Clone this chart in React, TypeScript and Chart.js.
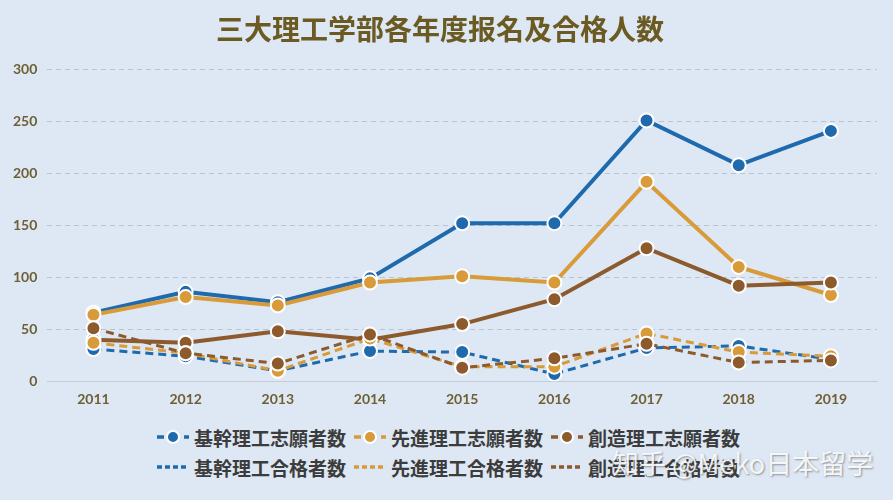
import React, { useEffect, useRef } from "react";
import { Chart, registerables } from "chart.js";

Chart.register(...registerables);

const years = ["2011", "2012", "2013", "2014", "2015", "2016", "2017", "2018", "2019"];
const kikanApply = [66, 86, 76, 99, 152, 152, 251, 208, 241];
const senshinApply = [64, 81, 73, 95, 101, 95, 192, 110, 83];
const souzouApply = [40, 37, 48, 40, 55, 79, 128, 92, 95];
const kikanPass = [31, 24, 10, 29, 28, 7, 32, 34, 21];
const senshinPass = [37, 27, 10, 41, 14, 14, 46, 28, 24];
const souzouPass = [51, 27, 17, 45, 13, 22, 36, 18, 20];
const yTicks = [0, 50, 100, 150, 200, 250, 300];

const seriesNames = [
  "基幹理工志願者数",
  "先進理工志願者数",
  "創造理工志願者数",
  "基幹理工合格者数",
  "先進理工合格者数",
  "創造理工合格者数",
];

const BLUE = "#1f69ad";
const GOLD = "#d99a3a";
const BROWN = "#8c5a2c";
const CJK = '"Noto Sans CJK JP", "Noto Sans", sans-serif';

function LegendMark({ color, dashed }: { color: string; dashed: boolean }) {
  return (
    <svg width={34} height={16} style={{ marginRight: 4, flex: "none" }}>
      {dashed ? (
        <line x1={1} y1={8} x2={33} y2={8} stroke={color} strokeWidth={3.5} strokeDasharray="5 3" />
      ) : (
        <>
          <line x1={1} y1={8} x2={33} y2={8} stroke={color} strokeWidth={3.5} strokeDasharray="7 20 7" />
          <circle cx={17} cy={8} r={6} fill={color} stroke="#fff" strokeWidth={2} />
        </>
      )}
    </svg>
  );
}

export default function App() {
  const canvasRef = useRef<HTMLCanvasElement | null>(null);

  useEffect(() => {
    if (!canvasRef.current) return;
    const solid = (label: string, data: number[], color: string, order: number) => ({
      label,
      data,
      order,
      borderColor: color,
      backgroundColor: color,
      borderWidth: 4,
      pointRadius: 7,
      pointHoverRadius: 7,
      pointBorderWidth: 2,
      pointBorderColor: "#ffffff",
      pointBackgroundColor: color,
      tension: 0,
    });
    const dashed = (label: string, data: number[], color: string, order: number) => ({
      ...solid(label, data, color, order),
      borderWidth: 3,
      borderDash: [8, 5],
    });
    const chart = new Chart(canvasRef.current, {
      type: "line",
      data: {
        labels: years,
        datasets: [
          solid(seriesNames[0], kikanApply, BLUE, 5),
          solid(seriesNames[1], senshinApply, GOLD, 4),
          solid(seriesNames[2], souzouApply, BROWN, 3),
          dashed(seriesNames[3], kikanPass, BLUE, 2),
          dashed(seriesNames[4], senshinPass, GOLD, 1),
          dashed(seriesNames[5], souzouPass, BROWN, 0),
        ],
      },
      options: {
        animation: false,
        responsive: false,
        maintainAspectRatio: false,
        layout: { padding: { left: 3, right: 16, top: 0, bottom: 0 } },
        plugins: {
          legend: { display: false },
          tooltip: { enabled: false },
          title: {
            display: true,
            text: "三大理工学部各年度报名及合格人数",
            color: "#6b5a22",
            font: { family: CJK, size: 28, weight: "bold" },
            padding: { top: 13, bottom: 23 },
          },
        },
        scales: {
          x: {
            offset: true,
            grid: { display: false },
            border: { display: true, color: "#c4ccd6", width: 1 },
            ticks: {
              color: "#6e5f34",
              font: { family: "Lato, sans-serif", size: 14, weight: "bold" },
              padding: 2,
            },
          },
          y: {
            min: 0,
            max: 300,
            afterBuildTicks: (axis: any) => {
              axis.ticks = yTicks.map((v) => ({ value: v }));
            },
            grid: { color: "rgba(170,180,195,0.7)", lineWidth: 1, drawTicks: false },
            border: { display: false, dash: [5, 4] },
            ticks: {
              color: "#6e5f34",
              font: { family: "Lato, sans-serif", size: 14, weight: "bold" },
              padding: 10,
            },
          },
        },
      },
    });
    return () => chart.destroy();
  }, []);

  const colors = [BLUE, GOLD, BROWN];
  const rows = [
    [0, 1, 2],
    [3, 4, 5],
  ];

  return (
    <div
      style={{
        position: "fixed",
        left: 0,
        top: 0,
        width: 893,
        height: 500,
        background: "#dde8f4",
        overflow: "hidden",
      }}
    >
      <canvas ref={canvasRef} width={893} height={410} style={{ position: "absolute", left: 0, top: 0 }} />
      <div style={{ position: "absolute", left: 0, top: 422, width: 893 }}>
        {rows.map((row, ri) => (
          <div
            key={ri}
            style={{
              display: "flex",
              justifyContent: "flex-start",
              paddingLeft: 156,
              height: 30,
              alignItems: "center",
            }}
          >
            {row.map((i) => (
              <div
                key={i}
                style={{
                  display: "flex",
                  alignItems: "center",
                  marginRight: 7,
                  fontFamily: CJK,
                  fontWeight: "bold",
                  fontSize: 19,
                  color: "#3c3c3c",
                  whiteSpace: "nowrap",
                }}
              >
                <LegendMark color={colors[i % 3]} dashed={i >= 3} />
                {seriesNames[i]}
              </div>
            ))}
          </div>
        ))}
      </div>
      <div
        style={{
          position: "absolute",
          left: 612,
          top: 443,
          fontFamily: CJK,
          fontSize: 27,
          color: "rgba(255,255,255,0.88)",
          textShadow: "1px 1px 2px rgba(90,90,90,0.6)",
          whiteSpace: "nowrap",
        }}
      >
        知乎 @Meko日本留学
      </div>
    </div>
  );
}
